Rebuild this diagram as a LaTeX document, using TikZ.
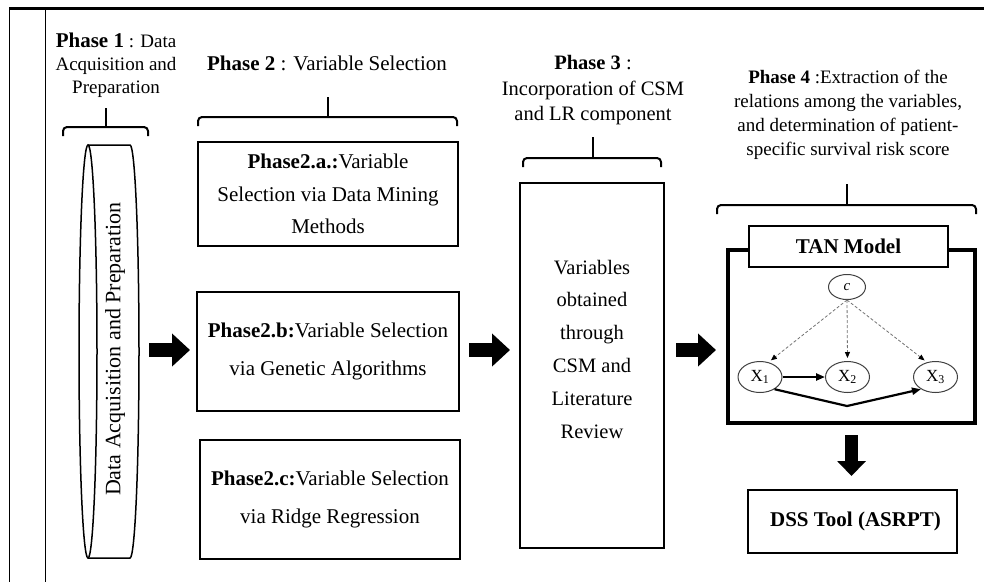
\documentclass[tikz,border=0pt]{standalone}
\usepackage{fontspec}
\setmainfont{Liberation Serif}
\usetikzlibrary{arrows.meta,shapes.geometric}
\newcommand\phbrace[5]{%
  \draw[bracestyle] (#1,#4+9) -- (#1,#4) -- (#2,#4) -- (#2,#4+9);
  \draw[bracestyle] (#3,#4) -- (#3,#5);}
\begin{document}
\begin{tikzpicture}[x=1pt,y=-1pt,
  txt/.style={align=center,inner sep=0pt,font=\fontsize{21}{38}\selectfont},
  boxstyle/.style={draw,line width=1.8pt,inner sep=0pt},
  bracestyle/.style={line width=2pt,rounded corners=4pt},
  blockarrow/.style={line width=14pt,-{Triangle[length=18pt,width=32pt]}},
  varnode/.style={draw=black!75,ellipse,line width=1pt,inner sep=0pt,minimum width=44pt,minimum height=31pt,font=\fontsize{17}{17}\selectfont},
  dasharrow/.style={draw=black!55,dashed,dash pattern=on 3pt off 2pt,line width=0.8pt,-{Triangle[length=6pt,width=5pt,color=black]},shorten >=3pt},
  thickarrow/.style={line width=2.2pt,-{Triangle[length=9pt,width=7pt]}}]
\useasboundingbox (0,0) rectangle (984,582);
% frame
\draw[line width=3pt] (9,8.5) -- (984,8.5);
\draw[line width=0.9pt] (9,8) -- (9,582);
\draw[line width=0.9pt] (45,8) -- (45,582);

% Phase 1
\node[txt,font=\fontsize{19}{23}\selectfont] (h1) at (116,65) {{\fontsize{21}{23}\selectfont\textbf{Phase 1}} : Data\\Acquisition and\\Preparation};
\phbrace{63}{148}{106}{127}{108}
\draw[line width=1.5pt] (88,351.5) ellipse [x radius=9pt,y radius=206.5pt];
\draw[line width=1.5pt] (88,145) -- (130,145) arc[start angle=90,end angle=-90,x radius=9pt,y radius=206.5pt] -- (88,558);
\node[txt,rotate=90,font=\fontsize{22}{22}\selectfont] (cyl) at (115,349) {Data Acquisition and Preparation};

% Phase 2
\node[txt] (h2) at (327,63) {\textbf{Phase 2} : Variable Selection};
\phbrace{198}{457}{328}{117}{97}
\node[boxstyle,minimum width=260pt,minimum height=104pt] (p2a) at (328,194) {};
\node[txt,font=\fontsize{21}{32.5}\selectfont] (p2atext) at (p2a) {\textbf{Phase2.a.:}Variable\\Selection via Data Mining\\Methods};
\node[boxstyle,minimum width=262pt,minimum height=119pt] (p2b) at (328,351.5) {};
\node[txt] (p2btext) at (p2b) {\textbf{Phase2.b:}Variable Selection\\via Genetic Algorithms};
\node[boxstyle,minimum width=260pt,minimum height=119pt] (p2c) at (330,499.5) {};
\node[txt] (p2ctext) at (p2c) {\textbf{Phase2.c:}Variable Selection\\via Ridge Regression};

% Phase 3
\node[txt,font=\fontsize{20.5}{25.5}\selectfont] (h3) at (593,90.5) {\textbf{Phase 3} :\\Incorporation of CSM\\and LR component};
\phbrace{523}{661}{593}{158}{137}
\node[boxstyle,line width=1.5pt,minimum width=144pt,minimum height=365pt] (p3) at (592,365.5) {};
\node[txt,font=\fontsize{20.5}{32.8}\selectfont] (p3text) at (592,349) {Variables\\obtained\\through\\CSM and\\Literature\\Review};

% Phase 4
\node[txt,font=\fontsize{19}{24}\selectfont] (h4) at (848,114.5) {\textbf{Phase 4} :Extraction of the\\relations among the variables,\\and determination of patient-\\specific survival risk score};
\phbrace{717}{976}{847}{205}{184}
\node[draw,line width=3.5pt,minimum width=247pt,minimum height=173pt] (tan) at (851.5,336.5) {};
\node[draw,fill=white,line width=2pt,minimum width=199pt,minimum height=41pt,inner sep=0pt,font=\fontsize{21}{21}\selectfont\bfseries] (tanlabel) at (848.5,246.5) {TAN Model};
\node[varnode,minimum width=37pt,minimum height=25pt,font=\fontsize{15}{15}\selectfont\itshape] (c) at (847,287) {c};
\node[varnode] (x1) at (760,377) {X\textsubscript{1}};
\node[varnode] (x2) at (847.5,377) {X\textsubscript{2}};
\node[varnode] (x3) at (935.5,377) {X\textsubscript{3}};
\draw[dasharrow] (c.south) -- (x1.60);
\draw[dasharrow] (c.south) -- (x2.north);
\draw[dasharrow] (c.south) -- (x3.120);
\draw[thickarrow] (x1.east) -- (x2.west);
\coordinate (vbottom) at (847,406);
\draw[thickarrow] (x1.-40) -- (vbottom) -- (x3.-140);
\node[draw,line width=1.5pt,minimum width=209pt,minimum height=63pt,inner sep=0pt,font=\fontsize{21}{21}\selectfont\bfseries] (dss) at (852.5,521.5) {\hspace*{6pt}DSS Tool (ASRPT)};

% block arrows
\coordinate (a1s) at (149,350);
\coordinate (a1e) at (190,350);
\coordinate (a2s) at (469,350);
\coordinate (a2e) at (510,350);
\coordinate (a3s) at (676,350);
\coordinate (a3e) at (716,350);
\draw[blockarrow] (a1s) -- (a1e);
\draw[blockarrow] (a2s) -- (a2e);
\draw[blockarrow] (a3s) -- (a3e);
\draw[line width=13pt,-{Triangle[length=15pt,width=28pt]}] (tan.south |- 0,435) coordinate (a4s) -- (tan.south |- 0,476) coordinate (a4e);
\end{tikzpicture}
\end{document}
